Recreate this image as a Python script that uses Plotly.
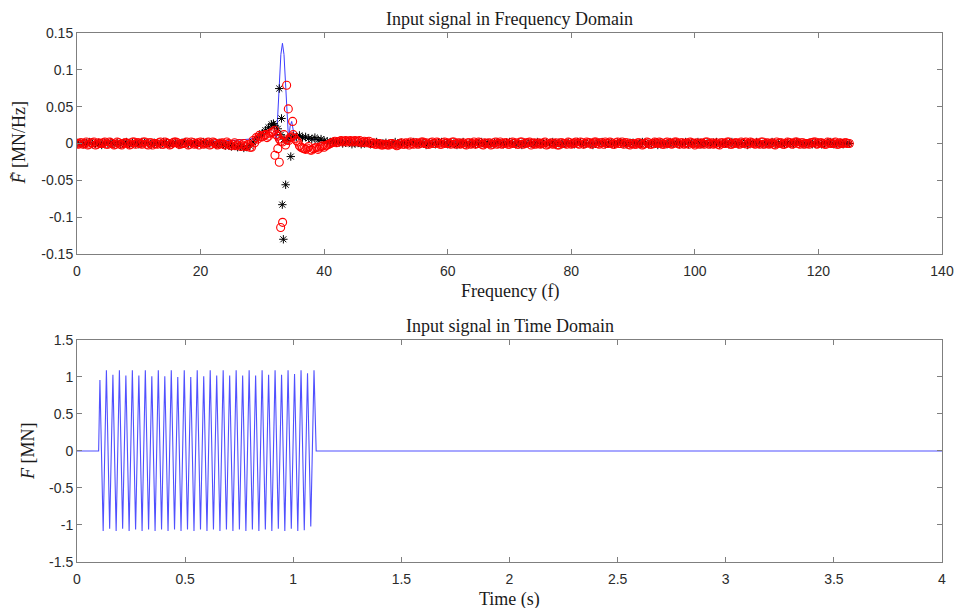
import numpy as np
import plotly.graph_objects as go
from plotly.subplots import make_subplots

# ---------------- data: frequency domain ----------------
# red band, bins at 0, 0.5, 1.0 ... Hz (milli-MN/Hz)
red_band_milli = [
    0, 1, -1, 2, -1, 1, -2, 1, 0, 2, -1, 1, -2, 2, -1, 0, 1, -2, 2, -1,
    1, -1, 2, -2, 1, 0, -1, 2, -1, 1, -2, 1, 2, -1, 0, 1, -2, 2, -1, 1,
    2, -1, 1, -2, 2, 0, -1, 1, -2, 0, -3, 1, -2, -4, 0, -3, -5, 4, 8, 11,
    9, 12, 10, 15, 18, 10, 3, 12, 5, 8, 12, 4, -3, -6, -8, -4, -9, -6, -8, -4,
    -5, -2, 0, 2, 1, 3, 2, 4, 3, 2, 4, 3, 1, 3, 2, 0, 1, -1, 0, -2,
    -1, -2, 0, -1, -2, 1, -1, 0, 2, -1, 1, 0, 2, 1, -1, 2, 0, 1, -1, 2,
    1, -1, 2, 0, -1, 1, -2, 1, 0, -1, 2, -1, 1, 0, -2, 1, -1, 2, 0, 1,
    -1, 2, 1, -1, 2, 0, 1, -2, 1, 0, -1, 1, -2, 0, -1, 1, -2, 1, 0, 2,
    -1, 1, 0, 2, -1, 2, 1, 0, 2, -1, 1, 2, 0, 1, -1, 2, 0, -1, 1, -2,
    0, -1, 1, -2, 0, 1, -1, 2, 0, 1, -1, 2, 1, 0, 2, -1, 1, 0, -1, 1,
    -2, 0, 1, -1, 2, 0, -1, 1, -2, 1, 0, 2, -1, 1, 0, 2, 1, -1, 2, 0,
    1, -1, 2, 0, -1, 1, -2, 0, 1, -1, 2, 1, 0, 2, -1, 1, 0, -1, 1, 2,
    0, 1, -1, 2, 0, 1, -1, 1, 0, 1, 0,
]
# red band, bins at 0.25, 0.75, 1.25 ... Hz (milli-MN/Hz)
red_band_q_milli = [
    -1, 1, 0, -2, 1, 2, -1, 0, 1, -1, 2, 0, -1, 1, -2, 1, 0, -1, 2, 1,
    0, 2, -1, 1, -2, 0, 1, -1, 2, 0, -1, 2, 1, -1, 0, 2, -1, 1, 0, -2,
    1, 0, 2, -1, 1, -2, 0, -1, 2, -2, -1, -3, 0, -2, -4, -1, -5, 1, 6, 9,
    11, 8, 14, 16, 12, 6, 2, -2, 4, 9, 7, 2, -5, -7, -6, -9, -7, -5, -6, -3,
    -3, -1, 1, 3, 2, 4, 3, 2, 4, 3, 2, 4, 2, 1, 3, 0, -1, 0, -2, -1,
    -2, 0, -1, -3, 0, -1, 1, -2, 0, 1, -1, 2, 0, -1, 1, 0, 2, -1, 1, 0,
    0, 2, -1, 1, 0, -1, 1, -1, 2, 0, 1, -2, 0, 1, -1, 2, 0, -1, 1, -1,
    1, 0, -1, 2, -1, 1, 2, 0, -1, 1, 0, 2, -1, 1, 0, -2, 1, 0, -1, 1,
    0, 2, -1, 1, 0, 1, -1, 2, 0, 1, -1, 0, 2, -1, 1, 0, 2, 1, -1, 0,
    -1, 1, 0, -1, 2, -1, 0, 1, 2, -1, 1, 0, -1, 2, 0, 1, -1, 1, 2, 0,
    1, -1, 0, 2, -1, 1, 0, -1, 1, 0, 2, -1, 0, 1, -1, 0, 2, 0, 1, -1,
    0, 2, -1, 1, 0, -1, 2, 1, -1, 0, 1, -1, 2, 0, 1, -1, 0, 1, 2, -1,
    1, 0, -1, 1, 0, 2, -1, 0, 1, 0,
]
# black band, bins at 0, 0.5, 1.0 ... Hz (milli-MN/Hz)
black_band_milli = [
    1, 0, -1, 1, 2, -1, 0, 1, -2, 1, 0, 2, -1, 1, -1, 0, 2, -1, 1, 0,
    -1, 2, 0, 1, -2, 1, 0, -1, 2, 1, -1, 0, 1, -2, 1, 2, -1, 0, 1, -1,
    0, 2, -1, 1, 0, -2, 1, -1, -3, -2, -4, -3, -5, -4, -6, -5, -3, 2, 6, 10,
    14, 18, 22, 26, 24, 20, 12, 6, 4, 8, 10, 9, 11, 8, 9, 7, 6, 8, 5, 6,
    4, 3, 2, 3, 1, 2, 0, 1, 2, -1, 0, 1, -1, 0, 1, -1, 0, 2, -1, 0,
    1, -1, 0, 2, -1, 1, 0, -1, 1, 2, -1, 0, 1, -2, 1, 0, -1, 1, 2, 0,
    -1, 1, 0, -2, 1, 2, -1, 0, 1, -1, 0, 2, -1, 1, 0, -1, 2, 0, -1, 1,
    2, 0, -1, 1, -2, 1, 0, 1, -1, 2, 0, -1, 1, 0, 2, -1, 1, -1, 0, 1,
    0, -1, 2, 1, -1, 0, 1, -2, 0, 1, 2, -1, 1, 0, -1, 1, 2, 0, -1, 1,
    1, 0, -1, 2, 1, -1, 0, 1, -2, 1, 0, -1, 2, 0, 1, -1, 0, 2, -1, 1,
    0, 2, -1, 1, 0, -1, 1, 2, -1, 0, 1, -1, 2, 0, -1, 1, 0, -2, 1, 0,
    2, 0, -1, 1, 0, 2, -1, 1, 0, -1, 1, 0, -1, 2, 1, -1, 0, 1, -1, 0,
    1, -1, 0, 1, 2, -1, 0, 1, -1, 0, 0,
]
band_step_hz = 0.5
quarter_offset_hz = 0.25

# isolated markers around the resonance peak (f in Hz, value in MN/Hz)
red_peak_f = [32.04, 32.5, 32.74, 32.96, 33.28, 33.93, 34.2, 34.9]
red_peak_v = [-0.016, -0.007, -0.0255, -0.114, -0.107, 0.079, 0.047, 0.030]
black_peak_f = [31.8, 32.74, 33.1, 33.23, 33.4, 33.77, 34.6]
black_peak_v = [0.027, 0.0746, 0.034, -0.083, -0.130, -0.056, -0.0177]

# magnitude line
blue_f = [0, 10, 20, 25, 28, 30, 31, 31.5, 31.75, 32, 32.25, 32.5, 32.75, 33,
          33.25, 33.5, 33.75, 34, 34.25, 34.5, 34.75, 35, 35.25, 35.5, 36, 38,
          40, 50, 60, 80, 100, 125]
blue_v = [0.001, 0.002, 0.002, 0.004, 0.006, 0.010, 0.015, 0.022, 0.028, 0.018,
          0.004, 0.040, 0.081, 0.121, 0.136, 0.121, 0.082, 0.040, 0.004, 0.024,
          0.030, 0.018, 0.004, 0.012, 0.010, 0.006, 0.004, 0.002, 0.002, 0.001,
          0.001, 0.001]

# ---------------- data: time domain ----------------
peak_vals = [0.96, 1.09, 1.03, 1.09, 1.02, 1.09, 1.02, 1.09, 1.01, 1.09, 1.01,
             1.09, 1.00, 1.09, 1.00, 1.09, 1.01, 1.09, 1.02, 1.09, 1.02, 1.09,
             1.02, 1.09, 1.02, 1.09, 1.03, 1.09, 1.03, 1.09, 1.04, 1.09, 1.05,
             1.09]
trough_vals = [-1.08, -1.05, -1.08, -1.05, -1.08, -1.06, -1.08, -1.06, -1.08,
               -1.06, -1.08, -1.06, -1.08, -1.06, -1.08, -1.06, -1.08, -1.06,
               -1.08, -1.06, -1.08, -1.06, -1.08, -1.06, -1.08, -1.06, -1.08,
               -1.05, -1.08, -1.05, -1.08, -1.07, -1.02]
first_extremum_t = 0.106
half_period_s = 0.015
lead_t = [0.0, 0.100]
lead_v = [0.0, 0.0]
tail_t = [1.106, 4.0]
tail_v = [0.0, 0.0]

x1_ticks = [0, 20, 40, 60, 80, 100, 120, 140]
y1_ticks = [-0.15, -0.1, -0.05, 0, 0.05, 0.1, 0.15]
y1_text = ["-0.15", "-0.1", "-0.05", "0", "0.05", "0.1", "0.15"]
x2_ticks = [0, 0.5, 1, 1.5, 2, 2.5, 3, 3.5, 4]
x2_text = ["0", "0.5", "1", "1.5", "2", "2.5", "3", "3.5", "4"]
y2_ticks = [-1.5, -1, -0.5, 0, 0.5, 1, 1.5]
y2_text = ["-1.5", "-1", "-0.5", "0", "0.5", "1", "1.5"]

# ---------------- build ----------------
red_a = np.array(red_band_milli) / 1000.0
red_b = np.array(red_band_q_milli) / 1000.0
black_band = np.array(black_band_milli) / 1000.0
red_fa = np.arange(len(red_a)) * band_step_hz
red_fb = quarter_offset_hz + np.arange(len(red_b)) * band_step_hz
black_f = np.arange(len(black_band)) * band_step_hz

red_x = list(red_fa) + list(red_fb) + red_peak_f
red_y = list(red_a) + list(red_b) + red_peak_v

ext_v = []
for i, p in enumerate(peak_vals):
    ext_v.append(p)
    if i < len(trough_vals):
        ext_v.append(trough_vals[i])
ext_t = first_extremum_t + half_period_s * np.arange(len(ext_v))
time_t = list(lead_t) + list(ext_t) + list(tail_t)
time_v = list(lead_v) + list(ext_v) + list(tail_v)

fig = make_subplots(rows=2, cols=1, vertical_spacing=0.0)

fig.add_trace(go.Scatter(x=blue_f, y=blue_v, mode="lines",
                         line=dict(color="rgb(60,60,255)", width=1)), row=1, col=1)
fig.add_trace(go.Scatter(x=list(black_f) + black_peak_f,
                         y=list(black_band) + black_peak_v, mode="markers",
                         marker=dict(symbol="asterisk-open", size=7, color="black",
                                     line=dict(color="black", width=1))), row=1, col=1)
fig.add_trace(go.Scatter(x=red_x, y=red_y, mode="markers",
                         marker=dict(symbol="circle-open", size=8, color="red",
                                     line=dict(color="red", width=1.1))), row=1, col=1)
fig.add_trace(go.Scatter(x=time_t, y=time_v, mode="lines",
                         line=dict(color="rgb(80,80,255)", width=1.1)), row=2, col=1)

axis_common = dict(showgrid=False, zeroline=False, showline=True, mirror="ticks",
                   linecolor="#7f7f7f", linewidth=1, ticks="inside", ticklen=5,
                   tickcolor="#7f7f7f", tickwidth=1, automargin=False,
                   tickfont=dict(family="Liberation Sans, Arial", size=14, color="#2b2b2b"))

fig.update_xaxes(**axis_common)
fig.update_yaxes(**axis_common)

fig.update_xaxes(range=[0, 140], tickvals=x1_ticks, ticklabelstandoff=4, row=1, col=1)
fig.update_yaxes(range=[-0.15, 0.15], tickvals=y1_ticks, ticktext=y1_text, row=1, col=1)
fig.update_xaxes(range=[0, 4], tickvals=x2_ticks, ticktext=x2_text, ticklabelstandoff=4, row=2, col=1)
fig.update_yaxes(range=[-1.5, 1.5], tickvals=y2_ticks, ticktext=y2_text, row=2, col=1)

fig.update_layout(
    yaxis=dict(domain=[0.5822, 1.0]),
    yaxis2=dict(domain=[0.0, 0.4197]),
)

serif = dict(family="Liberation Serif, Times New Roman, serif", size=18, color="#1a1a1a")
ann = [
    dict(text="Input signal in Frequency Domain", x=0.5, y=1.0, xref="paper", yref="paper",
         xanchor="center", yanchor="bottom", yshift=2, showarrow=False, font=serif),
    dict(text="Frequency (f)", x=0.5, y=0.5822, xref="paper", yref="paper",
         xanchor="center", yanchor="top", yshift=-25, showarrow=False, font=serif),
    dict(text="<i>F\u0303</i> [MN/Hz]", x=0, y=0.7911, xref="paper", yref="paper",
         xanchor="center", yanchor="middle", xshift=-58, textangle=-90, showarrow=False, font=serif),
    dict(text="Input signal in Time Domain", x=0.5, y=0.4197, xref="paper", yref="paper",
         xanchor="center", yanchor="bottom", yshift=2, showarrow=False, font=serif),
    dict(text="Time (s)", x=0.5, y=0.0, xref="paper", yref="paper",
         xanchor="center", yanchor="top", yshift=-25, showarrow=False, font=serif),
    dict(text="<i>F</i> [MN]", x=0, y=0.2098, xref="paper", yref="paper",
         xanchor="center", yanchor="middle", xshift=-49, textangle=-90, showarrow=False, font=serif),
]

fig.update_layout(
    width=957, height=608,
    margin=dict(l=77, r=15, t=33, b=46),
    paper_bgcolor="white", plot_bgcolor="white",
    showlegend=False,
    annotations=ann,
)

fig.write_html(
    "out.html",
    config={"displayModeBar": False},
    post_script="document.body.style.margin='0';document.body.style.padding='0';"
                "document.documentElement.style.overflow='hidden';"
                "document.body.style.overflow='hidden';",
)
